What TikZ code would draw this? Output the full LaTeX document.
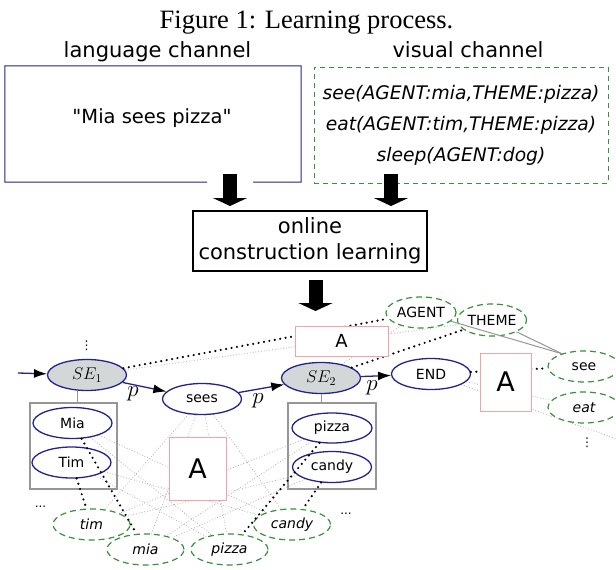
\RequirePackage{fix-cm}
\documentclass[tikz,border=0pt]{standalone}
\usepackage{fontspec}
\setmainfont{DejaVu Sans}
\newfontfamily\capfont{Liberation Serif}
\newfontfamily\plainfont[Ligatures=TeXOff]{DejaVu Sans}
\usetikzlibrary{arrows.meta,shapes.geometric}
\definecolor{navy}{RGB}{35,35,140}
\definecolor{grn}{RGB}{56,145,60}
\definecolor{pinkc}{RGB}{240,165,165}
\definecolor{grayc}{RGB}{150,150,150}
\definecolor{dotc}{RGB}{175,175,175}
\definecolor{sefill}{RGB}{211,215,215}
\pgfdeclarelayer{bg}
\pgfdeclarelayer{fg}
\pgfsetlayers{bg,main,fg}
\begin{document}
\begin{tikzpicture}[x=1pt,y=-1pt,
  wordnode/.style={ellipse, draw=navy, line width=1.3pt, fill=white, minimum width=79pt, minimum height=31pt, inner sep=0pt, font=\fontsize{14}{16}\selectfont},
  senode/.style={wordnode, fill=sefill, font=\fontsize{17}{19}\selectfont},
  objnode/.style={ellipse, draw=grn, line width=1.2pt, dash pattern=on 6pt off 4pt, fill=white, minimum width=77pt, minimum height=31pt, inner sep=0pt, font=\fontsize{14}{16}\selectfont},
  objit/.style={objnode, font=\fontsize{14}{16}\selectfont\itshape},
  assocbox/.style={rectangle, draw=pinkc, line width=1pt, fill=white, inner sep=0pt},
  groupbox/.style={rectangle, draw=grayc, line width=1.5pt, inner sep=0pt},
  seqarrow/.style={navy, line width=1.3pt, -{Latex[length=13pt,width=9pt,color=black]}},
  strongdots/.style={black, line width=2.4pt, line cap=round, dash pattern=on 0pt off 5.5pt},
  weakdots/.style={draw=dotc, line width=0.8pt, dash pattern=on 0.8pt off 2pt},
  rolelink/.style={draw=grayc, line width=1pt},
  blockarrow/.style={black, line width=14pt, -{Triangle[width=34pt,length=8pt]}},
  plabel/.style={font=\fontsize{23}{26}\selectfont, inner sep=0pt},
  dotsnode/.style={font=\fontsize{12}{14}\selectfont, inner sep=0pt},
]
\useasboundingbox (0,0) rectangle (616,570);

% ---------- top part ----------
\node[anchor=base, font=\capfont\fontsize{26.5}{30}\selectfont] (cap) at (306.5,28) {Figure 1: Learning process.};
\node[anchor=base, font=\fontsize{21}{25}\selectfont] (langlbl) at (157.5,57) {language channel};
\node[anchor=base, font=\fontsize{21}{25}\selectfont] (vislbl) at (468,57) {visual channel};

\node[rectangle, minimum width=296pt, minimum height=116pt, inner sep=0pt] (lang) at (153,124) {};
\coordinate (gapL) at (207,182);
\coordinate (gapR) at (253,182);
\draw[navy, line width=1pt] (gapL) -- (lang.south west) |- (lang.north east) |- (gapR);
\node[anchor=base, font=\plainfont\fontsize{19.5}{23}\selectfont] (langtxt) at (152,123) {"Mia sees pizza"};

\node[rectangle, draw=grn, line width=1pt, dash pattern=on 5pt off 4pt, minimum width=294pt, minimum height=116pt, inner sep=0pt, align=center, font=\fontsize{18.7}{31}\selectfont\itshape] (vis) at (461,125) {see(AGENT:mia,THEME:pizza)\\eat(AGENT:tim,THEME:pizza)\\sleep(AGENT:dog)};

\node[rectangle, draw=black, line width=1.3pt, minimum width=234pt, minimum height=60pt, inner sep=0pt, align=center, font=\fontsize{21}{26}\selectfont] (online) at (310,241) {online\\construction learning};

\coordinate (aLs) at (230,174);
\coordinate (aLe) at (230,206);
\coordinate (aRs) at (391,174);
\coordinate (aRe) at (391,206);
\coordinate (aBs) at (315.5,280);
\coordinate (aBe) at (315.5,311);
\draw[blockarrow] (aLs) -- (aLe);
\draw[blockarrow] (aRs) -- (aRe);
\draw[blockarrow] (aBs) -- (aBe);

% ---------- graph ----------
\node[senode] (SE1) at (87,375) {$SE_1$};
\node[wordnode] (sees) at (202,399) {sees};
\node[senode] (SE2) at (321,378) {$SE_2$};
\node[wordnode] (END) at (431,374) {END};

\node[objnode, minimum width=70pt] (AGENT) at (421,312.5) {AGENT};
\node[objnode, minimum width=67pt, minimum height=32pt] (THEME) at (492,320) {THEME};
\node[objnode, minimum width=72pt] (see) at (584,366.5) {see};
\node[objit, minimum width=72pt] (eat) at (584,407.5) {eat};

\node[groupbox, minimum width=87pt, minimum height=86pt] (lgrp) at (73.5,446) {};
\node[wordnode] (Mia) at (72.5,423) {Mia};
\node[wordnode] (Tim) at (71.5,462.5) {Tim};
\node[groupbox, minimum width=88pt, minimum height=86pt] (rgrp) at (332,446) {};
\node[wordnode, minimum width=80pt, minimum height=30pt] (pizzaB) at (332,428) {pizza};
\node[wordnode] (candyB) at (332,467) {candy};

\node[objit] (tim) at (91.5,524.5) {tim};
\node[objit] (mia) at (145.5,549.5) {mia};
\node[objit] (pizzaG) at (229.5,549.5) {pizza};
\node[objit] (candyG) at (292,524.5) {candy};

\node[dotsnode, anchor=base] (dotsL) at (40.5,507) {...};
\node[dotsnode, anchor=base] (dotsR) at (346,514) {...};
\node[dotsnode] (vdA) at (86.5,346) {⋮};
\node[dotsnode] (vdB) at (587,443) {⋮};

\node[plabel] (p1) at (133,394) {$p$};
\node[plabel] (p2) at (258,401) {$p$};
\node[plabel] (p3) at (372,388) {$p$};

% sequence arrows
\coordinate (start) at (18,373);
\draw[seqarrow] (start) -- (SE1);
\draw[seqarrow] (SE1) -- (sees);
\draw[seqarrow] (sees) -- (SE2);
\draw[seqarrow] (SE2) -- (END);

% group links
\draw[draw=grayc, line width=1pt] (SE1.239) -- (SE1.239 |- lgrp.north);
\draw[draw=grayc, line width=1pt] (SE2.south) -- (SE2.south |- rgrp.north);

% role links
\draw[rolelink] (AGENT) -- (see.150);
\draw[rolelink] (THEME) -- (see.150);

% weak associations
\coordinate (offR) at (640,447);
\begin{pgfonlayer}{bg}
\draw[weakdots] (SE1) -- (THEME);
\draw[weakdots] (SE2) -- (AGENT);
\draw[weakdots] (END) -- (eat);
\draw[weakdots] (END) -- (offR);
\foreach \w/\o in {sees/tim, sees/mia, sees/pizzaG, sees/candyG, Mia/pizzaG, Mia/candyG, Tim/pizzaG, Tim/candyG, pizzaB/tim, pizzaB/mia, candyB/tim, candyB/mia}
  \draw[weakdots] (\w) -- (\o);
\end{pgfonlayer}

% strong associations
\draw[strongdots] (SE1) -- (AGENT);
\draw[strongdots] (SE2) -- (THEME);
\draw[strongdots] (END) -- (see);
\draw[strongdots] (Tim) -- (tim);
\draw[strongdots] (Mia) -- (mia);
\draw[strongdots] (pizzaB) -- (pizzaG);
\draw[strongdots] (candyB) -- (candyG);

% association boxes
\begin{pgfonlayer}{fg}
\node[assocbox, minimum width=93pt, minimum height=30pt, font=\fontsize{18}{20}\selectfont] (Atop) at (341.5,341) {A};
\node[assocbox, minimum width=57pt, minimum height=63pt, font=\fontsize{27}{30}\selectfont] (Amid) at (197.5,468.5) {A};
\node[assocbox, minimum width=51pt, minimum height=58pt, font=\fontsize{27}{30}\selectfont] (Aright) at (505.5,382) {A};
\end{pgfonlayer}
\end{tikzpicture}
\end{document}
